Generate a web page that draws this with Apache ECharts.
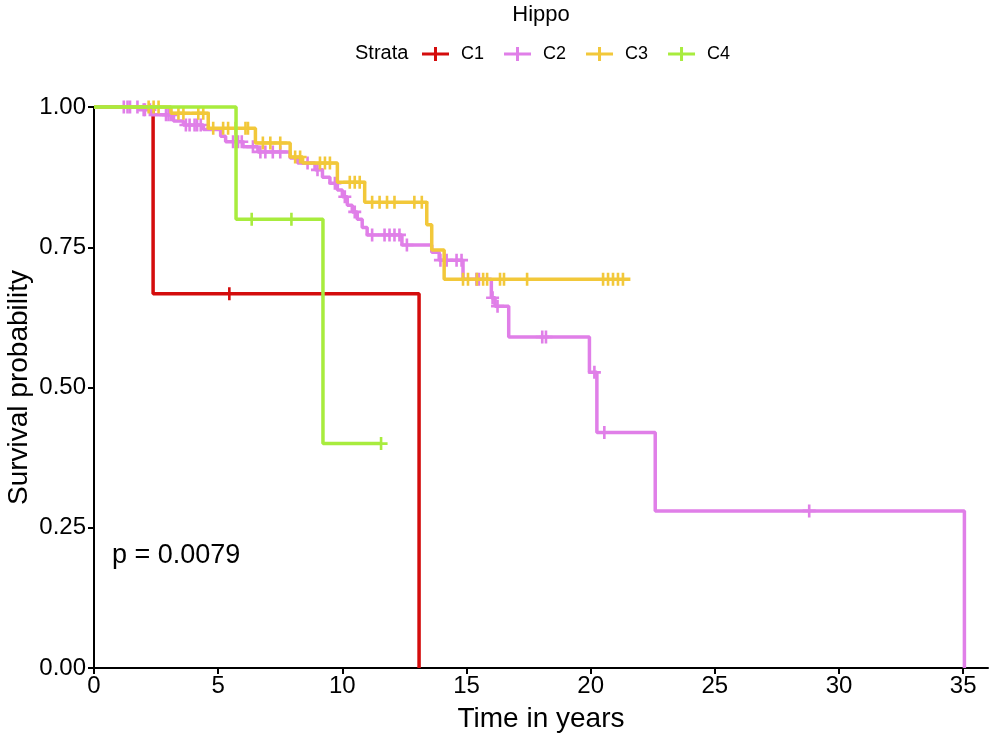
<!DOCTYPE html>
<html>
<head>
<meta charset="utf-8">
<script src="https://cdn.jsdelivr.net/npm/echarts@6/dist/echarts.min.js"></script>
<style>html,body{margin:0;padding:0;background:#fff}#c{width:1000px;height:738px}</style>
</head>
<body>
<div id="c"></div>
<script>
// ---- data ----
const strata = ['C1', 'C2', 'C3', 'C4'];
const colors = ['#D40C0C', '#E07FE8', '#F2C83A', '#A8EC3E'];

const c1Times = [0, 2.38, 13.09];
const c1Surv  = [1, 0.667, 0];
const c1Censor = [5.45];

const c2Times = [0, 1.8, 2.3, 3.2, 3.6, 4.4, 5.1, 5.3, 6.0, 6.6, 7.9, 8.2, 8.9, 9.2, 9.5, 9.8, 10.0, 10.2, 10.4, 10.6, 10.8, 11.0, 12.4, 13.6, 13.9, 14.86, 16.0, 16.15, 16.7, 19.95, 20.25, 22.6, 35.05];
const c2Surv  = [1, 0.995, 0.986, 0.975, 0.968, 0.96, 0.948, 0.938, 0.929, 0.92, 0.909, 0.90, 0.888, 0.875, 0.864, 0.852, 0.84, 0.825, 0.813, 0.80, 0.785, 0.772, 0.754, 0.741, 0.727, 0.693, 0.66, 0.645, 0.59, 0.527, 0.42, 0.28, 0];
const c2Censor = [1.2, 1.35, 1.45, 1.75, 2.0, 2.05, 2.25, 2.9, 3.0, 3.1, 3.7, 3.85, 4.05, 4.15, 4.3, 5.6, 5.8, 5.95, 6.4, 6.7, 6.9, 7.2, 7.5, 8.6, 9.0, 9.7, 10.1, 10.5, 11.2, 11.7, 11.9, 12.1, 12.3, 12.6, 13.95, 14.2, 14.6, 14.8, 15.4, 15.5, 16.05, 16.25, 18.05, 18.2, 20.15, 20.55, 28.8];

const c3Times = [0, 3.1, 4.6, 6.5, 7.9, 8.4, 9.8, 10.9, 13.4, 13.6, 14.1, 21.6];
const c3Surv  = [1, 0.989, 0.962, 0.936, 0.911, 0.90, 0.866, 0.83, 0.79, 0.745, 0.693, 0.693];
const c3Censor = [2.2, 2.4, 2.6, 3.4, 3.6, 4.2, 4.4, 4.8, 5.2, 5.4, 5.7, 6.1, 6.2, 6.8, 7.1, 7.5, 8.1, 8.3, 9.1, 9.3, 9.5, 10.3, 10.5, 10.7, 11.2, 11.5, 11.8, 12.1, 12.9, 13.2, 14.86, 15.06, 15.42, 15.67, 15.83, 16.35, 16.51, 17.44, 20.5, 20.7, 20.9, 21.1, 21.3];

const c4Times = [0, 5.72, 9.22, 11.56];
const c4Surv  = [1, 0.8, 0.4, 0.4];
const c4Censor = [6.35, 7.95, 11.56];

const xTicks = [0, 5, 10, 15, 20, 25, 30, 35];
const yTicks = [0, 0.25, 0.5, 0.75, 1];
const pText = 'p = 0.0079';

// ---- build ----
const groups = [
  [c1Times, c1Surv, c1Censor],
  [c2Times, c2Surv, c2Censor],
  [c3Times, c3Surv, c3Censor],
  [c4Times, c4Surv, c4Censor]
];
function survAt(times, surv, t) {
  let s = surv[0];
  for (let i = 0; i < times.length; i++) { if (times[i] <= t) s = surv[i]; }
  return s;
}
const plusPath = 'path://M4,0 H6 V4 H10 V6 H6 V10 H4 V6 H0 V4 H4 Z';
const legendIcon = 'path://M0,6 H27 V9 H0 Z M12,0.5 H15 V14.5 H12 Z';
const FONT = '"Liberation Sans", Arial, Helvetica, sans-serif';

const series = [];
groups.forEach((g, i) => {
  series.push({
    name: strata[i], type: 'line', step: 'end', showSymbol: false, clip: false,
    data: g[0].map((t, k) => [t, g[1][k]]),
    lineStyle: { color: colors[i], width: 3.5 },
    itemStyle: { color: colors[i] },
    z: 2 + i
  });
});
groups.forEach((g, i) => {
  series.push({
    name: strata[i], type: 'scatter', symbol: plusPath, symbolSize: 13, clip: false,
    data: g[2].map(t => [t, survAt(g[0], g[1], t)]),
    itemStyle: { color: colors[i], opacity: 1 },
    z: 2 + i, silent: true
  });
});

const chart = echarts.init(document.getElementById('c'), null, { renderer: 'canvas' });
chart.setOption({
  animation: false,
  backgroundColor: '#fff',
  textStyle: { fontFamily: FONT },
  grid: { left: 94, right: 12, top: 107, bottom: 70, containLabel: false, outerBoundsMode: 'none' },
  legend: {
    left: 422, top: 45, padding: 0, itemWidth: 27, itemHeight: 15, itemGap: 20,
    data: strata.map(n => ({ name: n, icon: legendIcon })),
    textStyle: { fontSize: 18, color: '#000', fontFamily: FONT, padding: [0, 0, 0, 7] },
    selectedMode: false
  },
  xAxis: {
    type: 'value', min: 0, max: 36,
    name: 'Time in years', nameLocation: 'middle', nameGap: 37, nameMoveOverlap: false,
    nameTextStyle: { fontSize: 28, color: '#000', fontFamily: FONT },
    axisLine: { show: true, onZero: false, lineStyle: { color: '#000', width: 2 } },
    axisTick: { show: true, length: 6, lineStyle: { color: '#000', width: 2 }, customValues: xTicks },
    axisLabel: { fontSize: 24, color: '#000', margin: 6, customValues: xTicks, fontFamily: FONT },
    splitLine: { show: false }
  },
  yAxis: {
    type: 'value', min: 0, max: 1, interval: 0.25,
    name: 'Survival probability', nameLocation: 'middle', nameGap: 61, nameMoveOverlap: false,
    nameTextStyle: { fontSize: 28, color: '#000', fontFamily: FONT },
    axisLine: { show: true, onZero: false, lineStyle: { color: '#000', width: 2 } },
    axisTick: { show: true, length: 6, lineStyle: { color: '#000', width: 2 }, customValues: yTicks },
    axisLabel: { fontSize: 24, color: '#000', margin: 8, customValues: yTicks, fontFamily: FONT,
      formatter: v => v.toFixed(2) },
    splitLine: { show: false }
  },
  graphic: [
    { type: 'text', x: 541, y: 15, style: { text: 'Hippo', font: '22px ' + FONT, fill: '#000', align: 'center', verticalAlign: 'middle' } },
    { type: 'text', x: 355, y: 53, style: { text: 'Strata', font: '20px ' + FONT, fill: '#000', align: 'left', verticalAlign: 'middle' } },
    { type: 'text', x: 112, y: 556, style: { text: pText, font: '27px ' + FONT, fill: '#000', align: 'left', verticalAlign: 'middle' } }
  ],
  series: series
});
</script>
</body>
</html>
